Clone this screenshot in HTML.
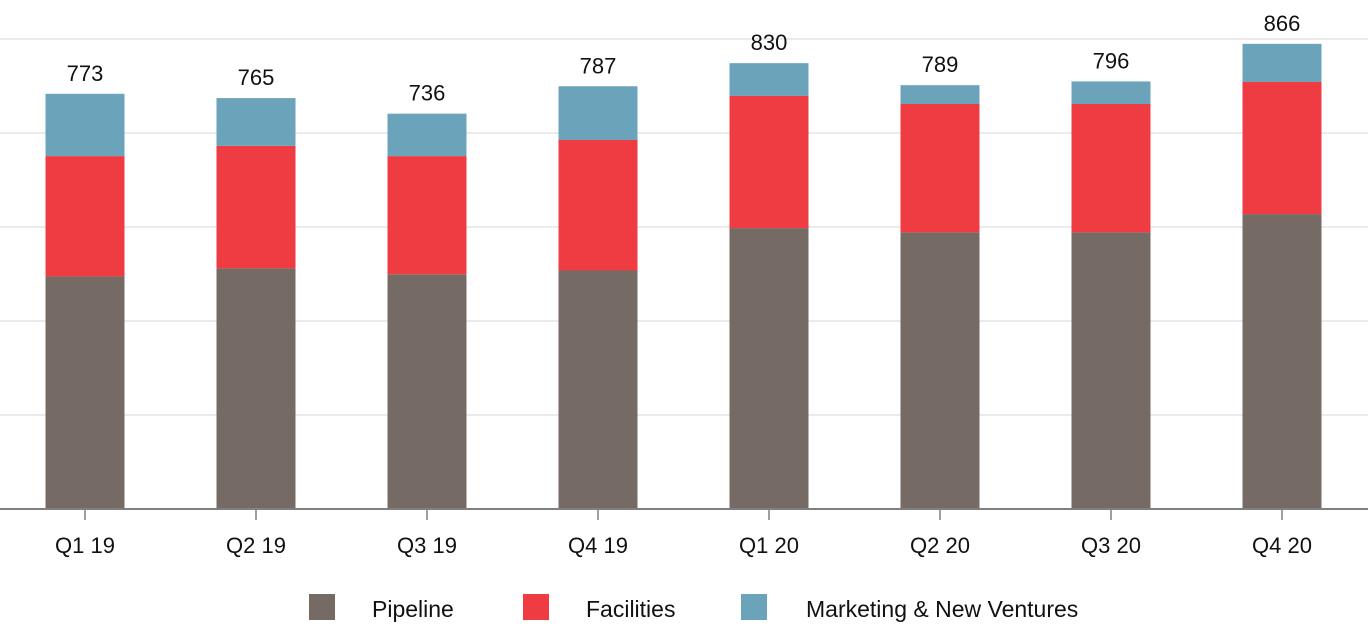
<!DOCTYPE html>
<html><head><meta charset="utf-8"><style>
html,body{margin:0;padding:0;background:#fff;}
svg{display:block;font-family:"Liberation Sans",sans-serif;}
</style></head><body>
<svg id="chart" width="1368" height="634">
<g id="grid"></g><g id="bars"></g><g id="labels"></g>
<line x1="0" y1="509" x2="1368" y2="509" stroke="#808080" stroke-width="2"/>
<g id="xticks"></g>
<g>
<rect x="309" y="594" width="26" height="26" fill="#766A65"/>
<text x="372" y="617" font-size="23" fill="#111">Pipeline</text>
<rect x="523" y="594" width="26" height="26" fill="#EE3C42"/>
<text x="586" y="617" font-size="23" fill="#111">Facilities</text>
<rect x="741" y="594" width="26" height="26" fill="#6BA3BA"/>
<text x="806" y="617" font-size="23" fill="#111">Marketing &amp; New Ventures</text>
</g>
</svg>
<script>
const categories = ["Q1 19","Q2 19","Q3 19","Q4 19","Q1 20","Q2 20","Q3 20","Q4 20"];
const pipeline = [433,448,437,444,523,515,515,549];
const facilities = [224,228,220,243,246,239,239,246];
const marketing = [116,89,79,100,61,35,42,71];
const totals = [773,765,736,787,830,789,796,866];
const gridValues = [175,350,525,700,875];

const NS="http://www.w3.org/2000/svg";
const base=509, pxPer=94/175, band=171, barW=79;
const y=v=>base-v*pxPer;
const xc=i=>85+i*band;
function mk(tag,attrs,parent){const e=document.createElementNS(NS,tag);for(const k in attrs)e.setAttribute(k,attrs[k]);parent.appendChild(e);return e;}
const grid=document.getElementById('grid'),bars=document.getElementById('bars'),labels=document.getElementById('labels'),xt=document.getElementById('xticks');
gridValues.forEach(g=>{
  const l=mk('line',{x1:0,x2:1368,y1:y(g),y2:y(g),stroke:'#ebebeb','stroke-width':2},grid);
  
  
});
const series=[[pipeline,'#766A65','pipeline'],[facilities,'#EE3C42','facilities'],[marketing,'#6BA3BA','marketing']];
categories.forEach((c,i)=>{
  let cum=0;
  series.forEach(([arr,col,nm])=>{
    const v=arr[i];
    const r=mk('rect',{x:xc(i)-barW/2,y:y(cum+v),width:barW,height:v*pxPer,fill:col},bars);
    
    
    cum+=v;
  });
  const t=mk('text',{x:xc(i),y:y(cum)-13,'text-anchor':'middle','font-size':22,fill:'#111'},labels);
  t.textContent=totals[i];
  
  
  const tk=mk('line',{x1:xc(i),x2:xc(i),y1:base,y2:base+11,stroke:'#808080','stroke-width':1.5},xt);
  
  
  const ct=mk('text',{x:xc(i),y:553,'text-anchor':'middle','font-size':22,fill:'#111'},xt);
  ct.textContent=c;
  
  
});
</script>
</body></html>
